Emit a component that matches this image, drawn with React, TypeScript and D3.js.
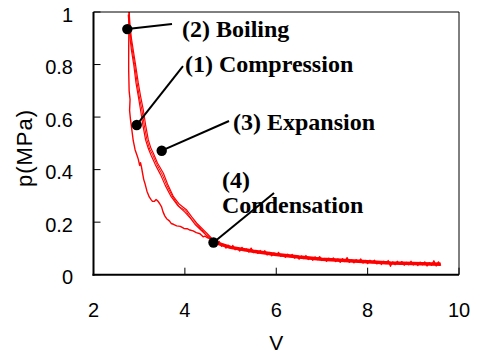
import React from "react";
import * as d3 from "d3";

// ---- data ----
const xTicks = [2, 4, 6, 8, 10];
const xTickLabels = ["2", "4", "6", "8", "10"];
const yTicks = [0, 0.2, 0.4, 0.6, 0.8, 1];
const yTickLabels = ["0", "0.2", "0.4", "0.6", "0.8", "1"];
const xTitle = "V";
const yTitle = "p(MPa)";

// bottom tail: smooth centre of the noisy band (V, p)
const tailBase: [number, number][] = [
  [4.62, 0.125], [5.0, 0.104], [5.5, 0.089], [6.0, 0.077], [6.5, 0.067], [7.0, 0.059],
  [7.5, 0.054], [8.0, 0.049], [8.5, 0.045], [9.0, 0.043], [9.6, 0.04],
];

// bottom tail: noisy measured trace (V, p)
const tailNoisy: [number, number][] = [
  [4.65, 0.129], [4.7, 0.116], [4.75, 0.127], [4.8, 0.108], [4.85, 0.115], [4.9, 0.101],
  [4.95, 0.112], [5.0, 0.102], [5.05, 0.111], [5.1, 0.095], [5.15, 0.102], [5.2, 0.09],
  [5.25, 0.104], [5.3, 0.092], [5.35, 0.098], [5.4, 0.086], [5.45, 0.101], [5.5, 0.084],
  [5.55, 0.089], [5.6, 0.081], [5.65, 0.092], [5.7, 0.081], [5.75, 0.091], [5.8, 0.075],
  [5.85, 0.085], [5.9, 0.072], [5.95, 0.083], [6.0, 0.074], [6.05, 0.085], [6.1, 0.07],
  [6.15, 0.076], [6.2, 0.066], [6.25, 0.078], [6.3, 0.069], [6.35, 0.077], [6.4, 0.063],
  [6.45, 0.071], [6.5, 0.059], [6.55, 0.071], [6.6, 0.061], [6.65, 0.073], [6.7, 0.058],
  [6.75, 0.065], [6.8, 0.055], [6.85, 0.068], [6.9, 0.058], [6.95, 0.069], [7.0, 0.054],
  [7.05, 0.062], [7.1, 0.051], [7.15, 0.063], [7.2, 0.055], [7.25, 0.064], [7.3, 0.05],
  [7.35, 0.06], [7.4, 0.047], [7.45, 0.061], [7.5, 0.05], [7.55, 0.065], [7.6, 0.047],
  [7.65, 0.056], [7.7, 0.045], [7.75, 0.057], [7.8, 0.048], [7.85, 0.06], [7.9, 0.044],
  [7.95, 0.054], [8.0, 0.042], [8.05, 0.055], [8.1, 0.046], [8.15, 0.055], [8.2, 0.041],
  [8.25, 0.05], [8.3, 0.039], [8.35, 0.051], [8.4, 0.042], [8.45, 0.054], [8.5, 0.032],
  [8.55, 0.049], [8.6, 0.038], [8.65, 0.051], [8.7, 0.041], [8.75, 0.05], [8.8, 0.036],
  [8.85, 0.047], [8.9, 0.038], [8.95, 0.051], [9.0, 0.037], [9.05, 0.045], [9.1, 0.035],
  [9.15, 0.048], [9.2, 0.038], [9.25, 0.049], [9.3, 0.033], [9.35, 0.046], [9.4, 0.036],
  [9.45, 0.053], [9.5, 0.033], [9.55, 0.049], [9.6, 0.035],
];

// inner (left, lowest) branch
const innerCurve: [number, number][] = [
  [4.62, 0.13], [4.56, 0.137], [4.5, 0.14], [4.44, 0.147], [4.4, 0.144], [4.33, 0.156],
  [4.25, 0.16], [4.18, 0.167], [4.11, 0.17], [4.05, 0.175], [3.98, 0.176], [3.9, 0.184],
  [3.82, 0.186], [3.75, 0.192], [3.7, 0.195], [3.66, 0.205], [3.6, 0.213], [3.56, 0.224],
  [3.52, 0.24], [3.49, 0.258], [3.45, 0.27], [3.41, 0.28], [3.37, 0.286], [3.33, 0.279],
  [3.29, 0.279], [3.26, 0.286], [3.22, 0.296], [3.17, 0.318], [3.13, 0.345], [3.1, 0.362],
  [3.07, 0.39], [3.05, 0.41], [3.03, 0.426], [3.01, 0.416], [2.98, 0.44], [2.95, 0.456],
  [2.91, 0.476], [2.87, 0.51], [2.84, 0.55], [2.81, 0.59], [2.79, 0.625], [2.8, 0.667],
  [2.78, 0.7], [2.77, 0.78], [2.77, 0.86], [2.775, 0.93], [2.78, 1.0],
];

// band of compression / expansion traces
const bandCurveA: [number, number][] = [
  [2.78, 1.0], [2.8, 0.95], [2.83, 0.9], [2.87, 0.855], [2.92, 0.8], [2.98, 0.73],
  [3.03, 0.68], [3.09, 0.627], [3.14, 0.57], [3.2, 0.513], [3.26, 0.48], [3.31, 0.462],
  [3.4, 0.425], [3.53, 0.386], [3.62, 0.345], [3.75, 0.297], [3.88, 0.268], [4.04, 0.246],
  [4.15, 0.22], [4.26, 0.196], [4.38, 0.175], [4.48, 0.158], [4.62, 0.132],
];
const bandCurveB: [number, number][] = [
  [2.76, 0.99], [2.78, 0.95], [2.8, 0.9], [2.83, 0.855], [2.88, 0.8], [2.93, 0.73],
  [2.98, 0.68], [3.03, 0.627], [3.08, 0.57], [3.14, 0.513], [3.2, 0.48], [3.26, 0.455],
  [3.35, 0.42], [3.47, 0.38], [3.57, 0.34], [3.7, 0.297], [3.85, 0.262], [4.0, 0.238],
  [4.12, 0.215], [4.22, 0.192], [4.35, 0.17], [4.47, 0.15], [4.62, 0.128],
];
const bandCurveC: [number, number][] = [
  [2.77, 0.99], [2.79, 0.95], [2.815, 0.9], [2.85, 0.855], [2.9, 0.8], [2.955, 0.73],
  [3.0, 0.68], [3.06, 0.627], [3.11, 0.57], [3.17, 0.513], [3.23, 0.478], [3.29, 0.458],
  [3.38, 0.422], [3.5, 0.383], [3.6, 0.342], [3.72, 0.3], [3.87, 0.26], [4.02, 0.243],
  [4.14, 0.212], [4.24, 0.196], [4.36, 0.172], [4.47, 0.156], [4.62, 0.13],
];

// annotations (data coordinates)
const annotations = [
  { lines: ["(2) Boiling"], dot: [2.74, 0.935], end: [3.718, 0.954], text: [3.937, 0.905] },
  { lines: ["(1) Compression"], dot: [2.946, 0.57], end: [3.959, 0.794], text: [4.003, 0.77] },
  { lines: ["(3) Expansion"], dot: [3.493, 0.472], end: [4.966, 0.585], text: [5.053, 0.551] },
  { lines: ["(4)", "Condensation"], dot: [4.626, 0.1226], end: [5.951, 0.311], text: [4.812, 0.33] },
];

export default function App() {
  const W = 480;
  const H = 356;
  const x = d3.scaleLinear().domain([2, 10]).range([93.5, 459]);
  const y = d3.scaleLinear().domain([0, 1]).range([274.7, 12]);
  const line = d3
    .line<[number, number]>()
    .x((d) => x(d[0]))
    .y((d) => y(d[1]));

  const [x0, x1] = x.range();
  const [y0, y1] = y.range();
  const sans = "'Liberation Sans', Arial, sans-serif";
  const serif = "'Liberation Serif', 'Times New Roman', serif";
  const lineGap = 25;

  return (
    <svg
      width={W}
      height={H}
      style={{ position: "absolute", left: 0, top: 0, background: "#fff" }}
    >
      <defs>
        <clipPath id="plotClip">
          <rect x={x0} y={y1} width={x1 - x0} height={y0 - y1} />
        </clipPath>
      </defs>
      <rect width={W} height={H} fill="#fff" />

      {/* curves */}
      <g clipPath="url(#plotClip)" fill="none" stroke="#ff0000" strokeLinejoin="round">
        <path d={line(tailBase) || ""} strokeWidth={3.5} />
        <path d={line(tailNoisy) || ""} strokeWidth={1.3} />
        <path d={line(innerCurve) || ""} strokeWidth={1.4} />
        <path d={line(bandCurveA) || ""} strokeWidth={1.2} />
        <path d={line(bandCurveB) || ""} strokeWidth={1.2} />
        <path d={line(bandCurveC) || ""} strokeWidth={1.0} />
      </g>

      {/* frame */}
      <line x1={x0} x2={x1} y1={y1} y2={y1} stroke="#000" strokeWidth={1} />
      <line x1={x1} x2={x1} y1={y1} y2={y0} stroke="#000" strokeWidth={1} />
      <line x1={x0} x2={x0} y1={y1} y2={y0 + 1} stroke="#000" strokeWidth={2} />
      <line x1={x0 - 1} x2={x1} y1={y0} y2={y0} stroke="#000" strokeWidth={2} />

      {/* ticks */}
      {xTicks.map((t, i) => (
        <g key={"xt" + i}>
          <line x1={x(t)} x2={x(t)} y1={y0} y2={y0 - 7} stroke="#000" strokeWidth={1} />
          <text
            x={x(t)}
            y={316.5}
            textAnchor="middle"
            fontFamily={sans}
            fontSize={20}
            fill="#000"
          >
            {xTickLabels[i]}
          </text>
        </g>
      ))}
      {yTicks.map((t, i) => (
        <g key={"yt" + i}>
          <line x1={x0} x2={x0 + 7} y1={y(t)} y2={y(t)} stroke="#000" strokeWidth={1} />
          <text
            x={73}
            y={y(t) + 9.5}
            textAnchor="end"
            fontFamily={sans}
            fontSize={20}
            fill="#000"
          >
            {yTickLabels[i]}
          </text>
        </g>
      ))}

      {/* axis titles */}
      <text
        x={(x0 + x1) / 2}
        y={350}
        textAnchor="middle"
        fontFamily={sans}
        fontSize={21}
        fill="#000"
      >
        {xTitle}
      </text>
      <text
        transform={`translate(32, 148) rotate(-90)`}
        textAnchor="middle"
        fontFamily={sans}
        fontSize={22}
        letterSpacing={1}
        fill="#000"
      >
        {yTitle}
      </text>

      {/* annotations */}
      {annotations.map((a, i) => (
        <g key={"an" + i}>
          <line
            x1={x(a.dot[0])}
            y1={y(a.dot[1])}
            x2={x(a.end[0])}
            y2={y(a.end[1])}
            stroke="#000"
            strokeWidth={2}
          />
          <circle cx={x(a.dot[0])} cy={y(a.dot[1])} r={5.2} fill="#000" />
          {a.lines.map((s, j) => (
            <text
              key={j}
              x={x(a.text[0])}
              y={y(a.text[1]) + j * lineGap}
              fontFamily={serif}
              fontWeight="bold"
              fontSize={24}
              fill="#000"
            >
              {s}
            </text>
          ))}
        </g>
      ))}
    </svg>
  );
}
